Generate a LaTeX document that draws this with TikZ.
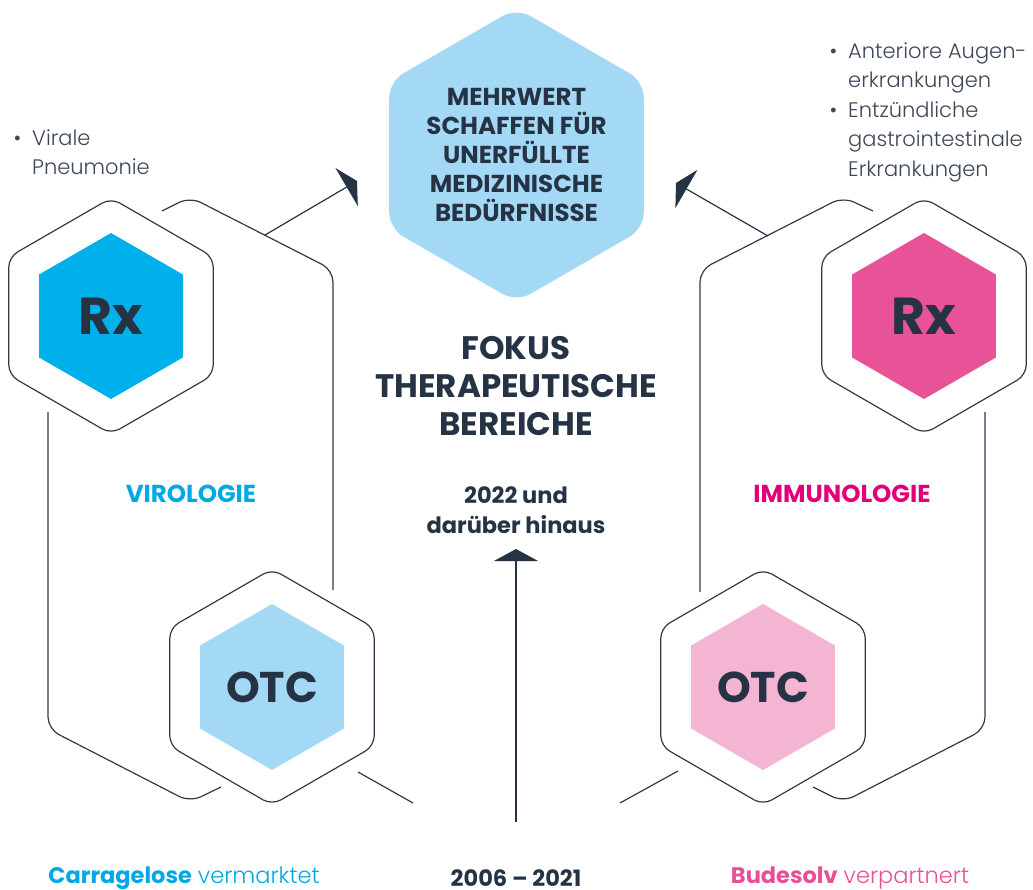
\documentclass[tikz,border=0pt]{standalone}
\usepackage{fontspec}
\setmainfont{Poppins}
\newfontfamily\thinfont{Poppins Light}
\usepackage{tikz}
\usetikzlibrary{shapes.geometric}
\usetikzlibrary{arrows.meta}

\definecolor{navy}{HTML}{263345}
\definecolor{outline}{HTML}{2F3A4B}
\definecolor{greytext}{HTML}{3D4757}
\definecolor{rxblue}{HTML}{00B0EA}
\definecolor{skyblue}{HTML}{A4D9F6}
\definecolor{virocyan}{HTML}{00A9E6}
\definecolor{rxpink}{HTML}{E85297}
\definecolor{softpink}{HTML}{F4B5D3}
\definecolor{immunomag}{HTML}{E2007A}
\definecolor{budpink}{HTML}{E94F95}

\begin{document}
\begin{tikzpicture}[x=1pt, y=-1pt,
	hexring/.style={regular polygon, regular polygon sides=6, shape border rotate=30, draw=outline, line width=1.2pt, rounded corners=10pt, minimum size=236pt, inner sep=0pt},
	hexcore/.style={regular polygon, regular polygon sides=6, shape border rotate=30, minimum size=166pt, inner sep=0pt, text=navy},
	frame/.style={draw=outline, line width=1.2pt, rounded corners=12pt},
	pointer/.style={draw=navy, line width=1.2pt, -{Triangle[length=12pt, width=44pt]}}]
	\useasboundingbox (0,0) rectangle (1033,890);
	
	% background frames
	\draw[frame] (162,211) -- (190,197) -- (333,270) -- (333,590);
	\draw[frame] (48,412) -- (48,729) -- (190,802) -- (221,787);
	\draw[frame] (873,211) -- (843,197) -- (700,270) -- (700,592);
	\draw[frame] (985,412) -- (985,729) -- (843,802) -- (813,787);
	\draw[frame] (358,772) -- (413,803);
	\draw[frame] (620,803) -- (678,771);
	
	% goal
	\node[regular polygon, regular polygon sides=6, shape border rotate=30, minimum size=292pt, inner sep=0pt, fill=skyblue, rounded corners=16pt, align=center, text=navy, font=\bfseries\fontsize{24.5}{29}\selectfont] (goal) at (516.5,155) {MEHRWERT\\SCHAFFEN FÜR\\UNERFÜLLTE\\MEDIZINISCHE\\BEDÜRFNISSE};
	
	% hexagons
	\node[hexcore, fill=rxblue, font=\bfseries\fontsize{52}{60}\selectfont] (rxL) at (111,316) {Rx};
	\node[hexring] (rxLring) at (111,316) {};
	\node[hexcore, fill=skyblue, font=\bfseries\fontsize{43}{50}\selectfont] (otcL) at (272,687) {OTC};
	\node[hexring] (otcLring) at (272,687) {};
	\node[hexcore, fill=rxpink, font=\bfseries\fontsize{52}{60}\selectfont] (rxR) at (924,316) {Rx};
	\node[hexring] (rxRring) at (924,316) {};
	\node[hexcore, fill=softpink, font=\bfseries\fontsize{43}{50}\selectfont] (otcR) at (763,687) {OTC};
	\node[hexring] (otcRring) at (763,687) {};
	
	% texts
	\node[align=center, text=navy, font=\bfseries\fontsize{32.5}{38}\selectfont] (focus) at (516,386) {FOKUS\\THERAPEUTISCHE\\BEREICHE};
	\node[align=center, text=navy, font=\bfseries\fontsize{22.5}{30}\selectfont] (future) at (516,510) {2022 und\\darüber hinaus};
	\node[text=virocyan, font=\bfseries\fontsize{24.5}{28}\selectfont] (viro) at (191,494) {VIROLOGIE};
	\node[text=immunomag, font=\bfseries\fontsize{24.5}{28}\selectfont] (immuno) at (842,494) {IMMUNOLOGIE};
	\node[anchor=west, inner sep=0pt, align=left, text=greytext, font=\thinfont\fontsize{21}{29.5}\selectfont] (viral) at (32,152) {\llap{\textbullet\hspace{11pt}}Virale\\Pneumonie};
	\node[anchor=west, inner sep=0pt, align=left, text=greytext, font=\thinfont\fontsize{21}{29.5}\selectfont] (indic) at (848,112) {\llap{\textbullet\hspace{11pt}}Anteriore Augen-\\erkrankungen\\\llap{\textbullet\hspace{11pt}}Entzündliche\\gastrointestinale\\Erkrankungen};
	\node[inner sep=0pt, text=virocyan, font=\fontsize{22.5}{26}\selectfont] (carra) at (184,878) {\textbf{Carragelose} {\thinfont vermarktet}};
	\node[inner sep=0pt, text=navy, font=\bfseries\fontsize{22.5}{26}\selectfont] (span) at (516,878) {2006 – 2021};
	\node[inner sep=0pt, text=budpink, font=\fontsize{22.5}{26}\selectfont] (bude) at (850,878) {\textbf{Budesolv} {\thinfont verpartnert}};
	
	% arrows
	\coordinate (tailL) at (265,235);
	\coordinate (tipL) at (357,181);
	\coordinate (tailR) at (768,236);
	\coordinate (tipR) at (676,183);
	\coordinate (tailC) at (516,822);
	\coordinate (tipC) at (516,549);
	\draw[pointer] (tailL) -- (tipL);
	\draw[pointer] (tailR) -- (tipR);
	\draw[pointer] (tailC) -- (tipC);
\end{tikzpicture}
\end{document}
